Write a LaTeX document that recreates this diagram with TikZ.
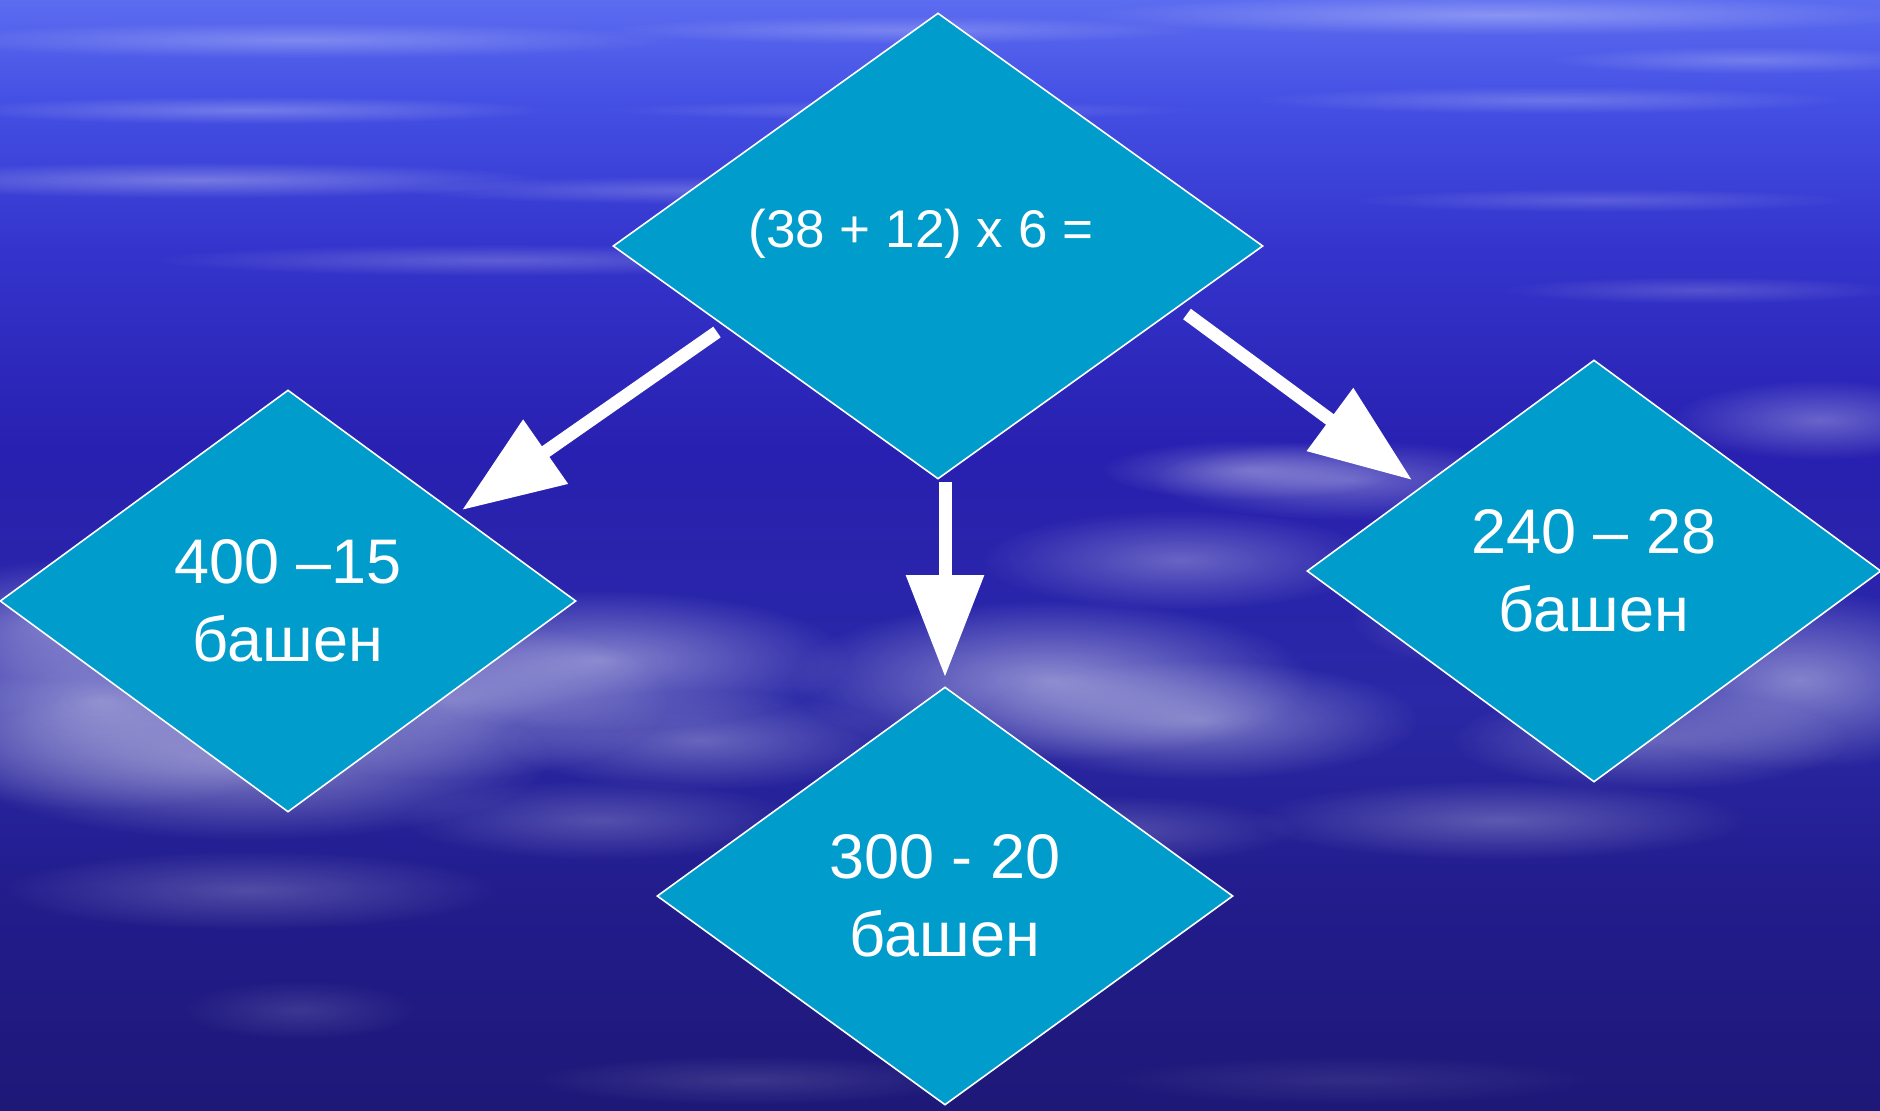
\documentclass[tikz,border=0pt]{standalone}
\usepackage{fontspec}
\setmainfont{Liberation Sans}
\usetikzlibrary{arrows.meta,shapes.geometric,fadings}

\definecolor{tile}{HTML}{009CCC}
\definecolor{skyT}{HTML}{5C6CF0}
\definecolor{skyA}{HTML}{4450E4}
\definecolor{skyB}{HTML}{3434CC}
\definecolor{skyC}{HTML}{2820B0}
\definecolor{skyM}{HTML}{2A28A6}
\definecolor{skyE}{HTML}{221C8C}
\definecolor{skyD}{HTML}{1E1878}

\pgfdeclareverticalshading{sky}{100bp}{color(0bp)=(skyD); color(25bp)=(skyD); color(34.5bp)=(skyE); color(43.5bp)=(skyM); color(54.7bp)=(skyC); color(63.7bp)=(skyB); color(70.5bp)=(skyA); color(75bp)=(skyT); color(100bp)=(skyT)}
\tikzfading[name=fuzz, inner color=transparent!15, outer color=transparent!100]

\begin{document}
\begin{tikzpicture}[x=0.5pt, y=-0.5pt,
    main/.style = {diamond, draw=white, line width=0.8pt, fill=tile, inner sep=0pt, text=white, align=center, font=\fontsize{31.5}{39}\selectfont},
    arr/.style = {-{Triangle[length=51pt,width=37.5pt]}, white, line width=6.5pt},
    cloud/.style = {fill=white, path fading=fuzz}]

    \useasboundingbox (0,0) rectangle (1880,1110);
    \shade[shading=sky] (0,0) rectangle (1880,1110);

    % clouds
    \foreach \cx/\cy/\rx/\ry/\op in {300/40/380/18/.3, 900/30/300/14/.25, 1500/15/420/20/.35, 1750/60/200/14/.25,
        250/110/300/14/.3, 900/110/300/10/.2, 1550/100/300/14/.25, 200/180/350/18/.35, 700/190/300/14/.25,
        500/260/350/16/.25, 1600/200/250/12/.2, 1700/290/200/14/.2,
        100/700/260/110/.55, 250/760/300/80/.5, 60/620/160/60/.4, 450/700/220/80/.45, 600/660/250/70/.5,
        700/740/200/50/.35, 1050/680/260/80/.55, 1200/720/220/60/.45, 1180/560/200/50/.35, 1350/480/200/40/.35,
        1250/470/150/30/.35, 1800/680/200/90/.5, 1650/740/200/50/.35, 1500/620/150/50/.3, 1820/420/150/40/.35,
        250/890/250/40/.25, 600/820/200/40/.25, 1500/820/250/40/.3, 1100/830/200/35/.25, 300/1010/120/30/.15,
        750/1080/220/25/.15, 1350/1080/250/25/.1}
        \fill[cloud, fill opacity=\op] (\cx-\rx,\cy-\ry) rectangle (\cx+\rx,\cy+\ry);

    \node[main, minimum width=325pt, minimum height=233pt] (top) at (938,246) {};
    \node[text=white, font=\fontsize{26.5}{32}\selectfont] (topeq) at (921,234) {(38 + 12) x 6 =};
    \node[main, minimum width=288pt, minimum height=211pt] (left) at (288,601) {400 –15\\башен};
    \node[main, minimum width=288pt, minimum height=209pt] (mid) at (945,896) {300 - 20\\башен};
    \node[main, minimum width=287pt, minimum height=211pt] (right) at (1594,571) {240 – 28\\башен};

    \coordinate (lfrom) at (717,332);
    \coordinate (lto) at (462,510);
    \coordinate (mfrom) at (945,482);
    \coordinate (mto) at (945,677);
    \coordinate (rfrom) at (1187,314);
    \coordinate (rto) at (1412,480);

    \draw[arr] (lfrom) -- (lto);
    \draw[arr] (mfrom) -- (mto);
    \draw[arr] (rfrom) -- (rto);
\end{tikzpicture}
\end{document}
